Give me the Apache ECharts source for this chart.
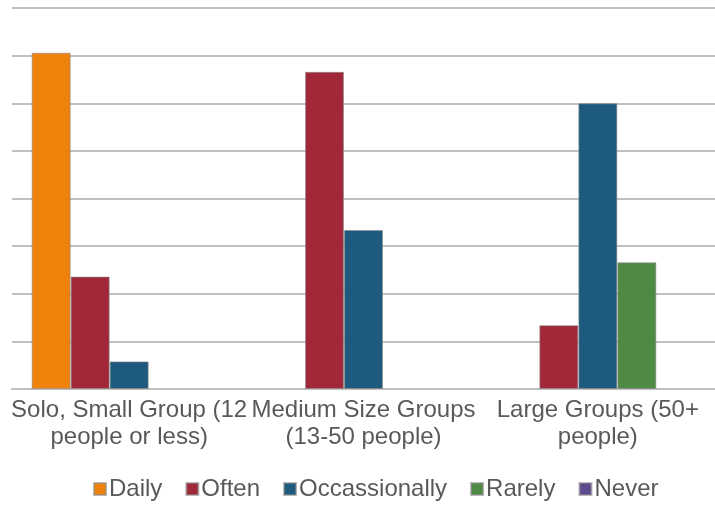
<!DOCTYPE html>
<html style="height: 100%">
<head>
	<meta charset="utf-8">
	<script type="text/javascript" src="https://cdn.jsdelivr.net/npm/echarts@6/dist/echarts.min.js"></script>
</head>
<body style="height: 100%; margin: 0; background: #fff">
	<div id="container" style="width: 715px; height: 505px"></div>
	<script>
	// categories and series (values read as % of respondents)
	var groups = ['Solo, Small Group (12\npeople or less)', 'Medium Size Groups\n(13-50 people)', 'Large Groups (50+\npeople)'];
	var daily = [35.3, 0, 0];
	var often = [11.8, 33.3, 6.7];
	var occasionally = [2.9, 16.7, 30];
	var rarely = [0, 0, 13.3];
	var never = [0, 0, 0];

	var myChart = echarts.init(document.getElementById('container'));

	function bar(name, data, color) {
		return {
			name: name,
			type: 'bar',
			// empty groups draw nothing
			data: data.map(function (v) { return v === 0 ? '-' : v; }),
			barWidth: 39,
			barGap: '0%',
			itemStyle: {
				color: color,
				borderColor: 'rgba(140,140,140,0.6)',
				borderWidth: 1
			}
		};
	}

	var option = {
		animation: false,
		textStyle: {fontFamily: 'Liberation Sans, Arial, sans-serif'},
		grid: {left: 12, right: -5, top: 8, bottom: 116},
		legend: {
			bottom: -1,
			left: 88,
			icon: 'rect',
			itemWidth: 12,
			itemHeight: 12,
			itemGap: 23,
			textStyle: {fontSize: 24, color: '#595959', padding: [0, 0, 0, -2]},
			data: ['Daily', 'Often', 'Occassionally', 'Rarely', 'Never']
		},
		xAxis: {
			type: 'category',
			data: groups,
			axisLine: {lineStyle: {color: '#bfbfbf', width: 2}},
			axisTick: {length: 6, lineStyle: {color: '#bfbfbf', width: 2}},
			axisLabel: {fontSize: 24, color: '#595959', lineHeight: 27, margin: 8, interval: 0}
		},
		yAxis: {
			type: 'value',
			min: 0,
			max: 40,
			interval: 5,
			axisLabel: {show: false},
			axisLine: {show: false},
			axisTick: {show: false},
			splitLine: {lineStyle: {color: '#bfbfbf', width: 2}}
		},
		series: [
			bar('Daily', daily, '#ee820b'),
			bar('Often', often, '#a02838'),
			bar('Occassionally', occasionally, '#1d5a7d'),
			bar('Rarely', rarely, '#4f8a44'),
			bar('Never', never, '#5d4a8c')
		]
	};
	myChart.setOption(option);
	</script>
</body>
</html>
